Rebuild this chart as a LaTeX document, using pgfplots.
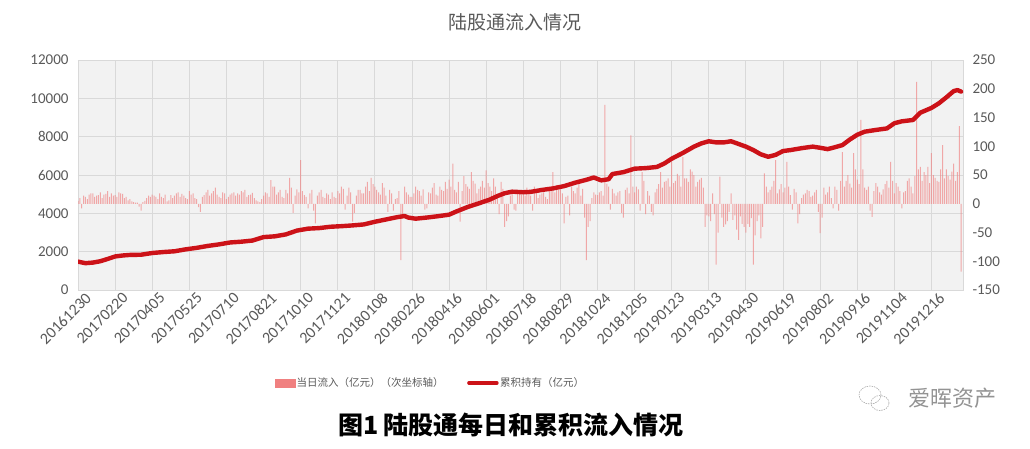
\documentclass[border=0pt]{standalone}
\usepackage{pgfplots}
\pgfplotsset{compat=1.18}
\usepackage{pgfplotstable}
\usepackage{fontspec}
\setmainfont{Carlito}
\newfontfamily\cjk{Noto Sans CJK SC}
\definecolor{bgc}{RGB}{242,242,242}
\definecolor{gridc}{RGB}{217,217,217}
\definecolor{textc}{RGB}{89,89,89}
\definecolor{barc}{RGB}{240,128,128}
\definecolor{linec}{RGB}{204,18,24}

% daily inflow, sampled on a grid of half steps (10 steps per tick interval)
\pgfplotstableread{
j v
0 5
1 -8
2 12
3 16
4 18
5 14
6 20
7 16
8 22
9 18
10 15
11 20
12 17
13 12
14 8
15 3
16 2
17 -12
18 5
19 14
20 16
21 12
22 18
23 10
24 4
25 15
26 14
27 20
28 17
29 10
30 22
31 18
32 8
33 -14
34 15
35 24
36 18
37 28
38 12
39 20
40 8
41 16
42 20
43 18
44 22
45 24
46 15
47 19
48 6
49 3
50 14
51 18
52 41
53 30
54 20
55 12
56 24
57 45
58 -16
59 25
60 76
61 15
62 -8
63 24
64 -34
65 20
66 12
67 18
68 8
69 12
70 22
71 30
72 -10
73 28
74 -31
75 14
76 24
77 18
78 38
79 45
80 30
81 20
82 36
83 14
84 24
85 -12
86 10
87 -98
88 30
89 16
90 12
91 30
92 22
93 25
94 -8
95 18
96 36
97 14
98 24
99 38
100 42
101 70
102 20
103 -31
104 48
105 30
106 55
107 35
108 26
109 40
110 58
111 30
112 44
113 16
114 38
115 -40
116 -22
117 24
118 -12
119 18
120 20
121 28
122 14
123 30
124 10
125 18
126 12
127 22
128 55
129 32
130 25
131 -34
132 14
133 30
134 18
135 38
136 26
137 -98
138 -30
139 20
140 15
141 22
142 172
143 30
144 26
145 14
146 22
147 -24
148 28
149 119
150 20
151 25
152 55
153 -18
154 14
155 -20
156 26
157 55
158 38
159 44
160 73
161 40
162 48
163 81
164 44
165 60
166 50
167 38
168 45
169 -40
170 -22
171 18
172 -106
173 47
174 -40
175 -30
176 18
177 -20
178 -63
179 -35
180 -50
181 -40
182 -106
183 -30
184 -60
185 53
186 20
187 30
188 76
189 25
190 20
191 73
192 15
193 26
194 -34
195 10
196 18
197 22
198 14
199 24
200 -51
201 28
202 20
203 10
204 30
205 -12
206 90
207 40
208 35
209 88
210 42
211 146
212 28
213 30
214 -23
215 36
216 20
217 25
218 40
219 73
220 18
221 30
222 -8
223 22
224 44
225 18
226 212
227 64
228 55
229 64
230 88
231 45
232 38
233 102
234 60
235 42
236 70
237 55
238 -118
}\flowdata

\pgfplotstableread{
j v
0.5 10
1.5 14
2.5 8
3.5 18
4.5 12
5.5 15
6.5 10
7.5 17
8.5 12
9.5 14
10.5 12
11.5 18
12.5 10
13.5 6
14.5 4
15.5 2
16.5 -5
17.5 3
18.5 10
19.5 12
20.5 14
21.5 8
22.5 12
23.5 16
24.5 6
25.5 10
26.5 18
27.5 12
28.5 14
29.5 8
30.5 16
31.5 10
32.5 -6
33.5 12
34.5 20
35.5 14
36.5 22
37.5 16
38.5 10
39.5 18
40.5 12
41.5 18
42.5 14
43.5 16
44.5 20
45.5 12
46.5 16
47.5 10
48.5 4
49.5 8
50.5 20
51.5 12
52.5 30
53.5 16
54.5 24
55.5 10
56.5 18
57.5 28
58.5 14
59.5 20
60.5 22
61.5 12
62.5 18
63.5 -12
64.5 14
65.5 24
66.5 10
67.5 16
68.5 20
69.5 10
70.5 18
71.5 26
72.5 14
73.5 20
74.5 -16
75.5 24
76.5 18
77.5 30
78.5 22
79.5 34
80.5 24
81.5 16
82.5 28
83.5 -14
84.5 18
85.5 8
86.5 22
87.5 -20
88.5 20
89.5 12
90.5 18
91.5 24
92.5 14
93.5 -10
94.5 20
95.5 28
96.5 16
97.5 30
98.5 22
99.5 26
100.5 30
101.5 24
102.5 38
103.5 22
104.5 34
105.5 26
106.5 40
107.5 18
108.5 30
109.5 28
110.5 36
111.5 22
112.5 30
113.5 -18
114.5 26
115.5 -30
116.5 14
117.5 -10
118.5 20
119.5 16
120.5 14
121.5 22
122.5 -12
123.5 24
124.5 16
125.5 20
126.5 8
127.5 30
128.5 20
129.5 24
130.5 18
131.5 12
132.5 -20
133.5 22
134.5 28
135.5 14
136.5 -24
137.5 -40
138.5 10
139.5 16
140.5 20
141.5 14
142.5 35
143.5 -10
144.5 18
145.5 20
146.5 -16
147.5 24
148.5 18
149.5 30
150.5 30
151.5 -12
152.5 40
153.5 22
154.5 -14
155.5 20
156.5 34
157.5 28
158.5 40
159.5 30
160.5 36
161.5 52
162.5 30
163.5 44
164.5 38
165.5 56
166.5 30
167.5 42
168.5 28
169.5 -20
170.5 -30
171.5 -18
172.5 -50
173.5 -24
174.5 -36
175.5 -14
176.5 -28
177.5 -45
178.5 -22
179.5 -40
180.5 -35
181.5 -25
182.5 -55
183.5 -20
184.5 -40
185.5 30
186.5 24
187.5 40
188.5 18
189.5 34
190.5 28
191.5 30
192.5 -10
193.5 20
194.5 -18
195.5 16
196.5 24
197.5 12
198.5 20
199.5 -14
200.5 -24
201.5 16
202.5 30
203.5 -8
204.5 24
205.5 40
206.5 30
207.5 50
208.5 28
209.5 60
210.5 34
211.5 60
212.5 24
213.5 -12
214.5 22
215.5 30
216.5 16
217.5 34
218.5 28
219.5 40
220.5 36
221.5 22
222.5 20
223.5 40
224.5 30
225.5 48
226.5 60
227.5 40
228.5 50
229.5 36
230.5 50
231.5 40
232.5 60
233.5 44
234.5 48
235.5 56
236.5 40
237.5 135
}\flowdatab

\pgfplotstableread{
j v
0 1480
2 1400
4 1430
6 1500
8 1620
10 1750
12 1800
14 1830
17 1840
20 1930
23 1980
26 2020
29 2120
32 2200
35 2300
38 2380
41 2480
44 2520
47 2580
50 2760
53 2800
56 2900
59 3100
62 3200
65 3230
68 3300
71 3330
74 3370
77 3420
80 3560
83 3680
86 3800
88 3860
89 3780
91 3720
94 3780
97 3850
100 3930
102 4100
105 4330
108 4520
111 4720
113 4900
115 5050
117 5130
120 5100
122 5120
125 5220
128 5300
131 5420
134 5600
137 5750
139 5870
141 5720
143 5780
144 6050
147 6150
150 6330
153 6360
156 6420
158 6600
160 6850
163 7150
166 7480
168 7650
170 7760
172 7700
174 7700
176 7760
178 7620
180 7480
182 7300
184 7080
186 6950
188 7050
190 7250
192 7300
195 7400
198 7480
200 7420
202 7350
204 7450
206 7560
208 7850
210 8100
212 8260
215 8350
218 8430
220 8700
222 8800
225 8870
227 9250
230 9500
232 9740
234 10050
236 10380
237 10430
238 10350
}\holddata

\begin{document}
\begin{tikzpicture}
\pgfplotsset{
  base/.style={
    at={(0,0)}, anchor=south west, scale only axis,
    width=885bp, height=230bp,
    xmin=0, xmax=238.5,
    /pgf/number format/assume math mode=true,
    /pgf/number format/1000 sep={},
    scaled y ticks=false,
    tick style={draw=none},
  }
}
% background, grid, left axis, x labels
\begin{axis}[base, name=main,
  ymin=0, ymax=12000,
  ytick={0,2000,...,12000},
  xtick={0,10,...,230},
  xticklabels={20161230,20170220,20170405,20170525,20170710,20170821,20171010,20171121,20180108,20180226,20180416,20180601,20180718,20180829,20181024,20181205,20190123,20190313,20190430,20190619,20190802,20190916,20191104,20191216},
  axis background/.style={fill=bgc},
  grid=major, major grid style={draw=gridc, line width=0.9bp},
  axis line style={draw=gridc, line width=0.9bp},
  yticklabel style={font=\fontsize{15bp}{18bp}\selectfont, text=textc, xshift=-6bp},
  xticklabel style={font=\fontsize{16bp}{18bp}\selectfont, text=textc, rotate=45, anchor=north east, inner sep=0.5bp, xshift=4bp, yshift=-5bp},
]
\end{axis}
% bars on secondary axis
\begin{axis}[base,
  ymin=-150, ymax=250,
  ytick={-150,-100,...,250},
  axis y line*=right, axis x line=none,
  y axis line style={draw=none},
  yticklabel style={font=\fontsize{15bp}{18bp}\selectfont, text=textc, xshift=6bp},
]
\addplot[ybar, bar shift=0pt, bar width=1bp, fill=barc, draw=none, fill opacity=0.65] table[x=j, y=v] {\flowdata};
\addplot[ybar, bar shift=0pt, bar width=1bp, fill=barc, draw=none, fill opacity=0.65] table[x=j, y=v] {\flowdatab};
\end{axis}
% cumulative line on primary axis
\begin{axis}[base,
  ymin=0, ymax=12000,
  hide axis,
  legend style={at={(0.398,-0.404)}, anchor=center, draw=none, fill=none,
    font=\cjk\fontsize{10.5bp}{12bp}\selectfont, text=textc,
    legend columns=2, legend cell align=left,
    /tikz/every even column/.append style={column sep=22bp},
    nodes={inner sep=1.5bp}},
]
\addlegendimage{legend image code/.code={\fill[barc] (0bp,-4bp) rectangle (20bp,4bp);}}
\addlegendentry{当日流入（亿元）（次坐标轴）}
\addplot[linec, line width=4.4bp, line join=round, line cap=round,
  legend image code/.code={\draw[linec, line width=3.5bp] (0bp,0bp) -- (28bp,0bp);}]
  table[x=j, y=v] {\holddata};
\addlegendentry{累积持有（亿元）}
\end{axis}
\node[font=\cjk\fontsize{19bp}{22bp}\selectfont, text=textc] at (437bp,268bp) {陆股通流入情况};
\node[font=\cjk\bfseries\fontsize{25bp}{28bp}\selectfont, text=black] at (433bp,-135bp) {图1\,陆股通每日和累积流入情况};
\draw[gray!70, line width=0.6bp, dash pattern=on 1.5bp off 1bp] (792bp,-105bp) ellipse (11bp and 9bp);
\draw[gray!70, line width=0.6bp, dash pattern=on 1.5bp off 1bp] (802bp,-113bp) ellipse (9bp and 7.5bp);
\node[font=\cjk\fontsize{22bp}{26bp}\selectfont, text=gray!85] at (874bp,-108bp) {爱晖资产};
\pgfresetboundingbox
\path[use as bounding box] (-78bp,-159bp) rectangle (952bp,290bp);
\end{tikzpicture}
\end{document}
